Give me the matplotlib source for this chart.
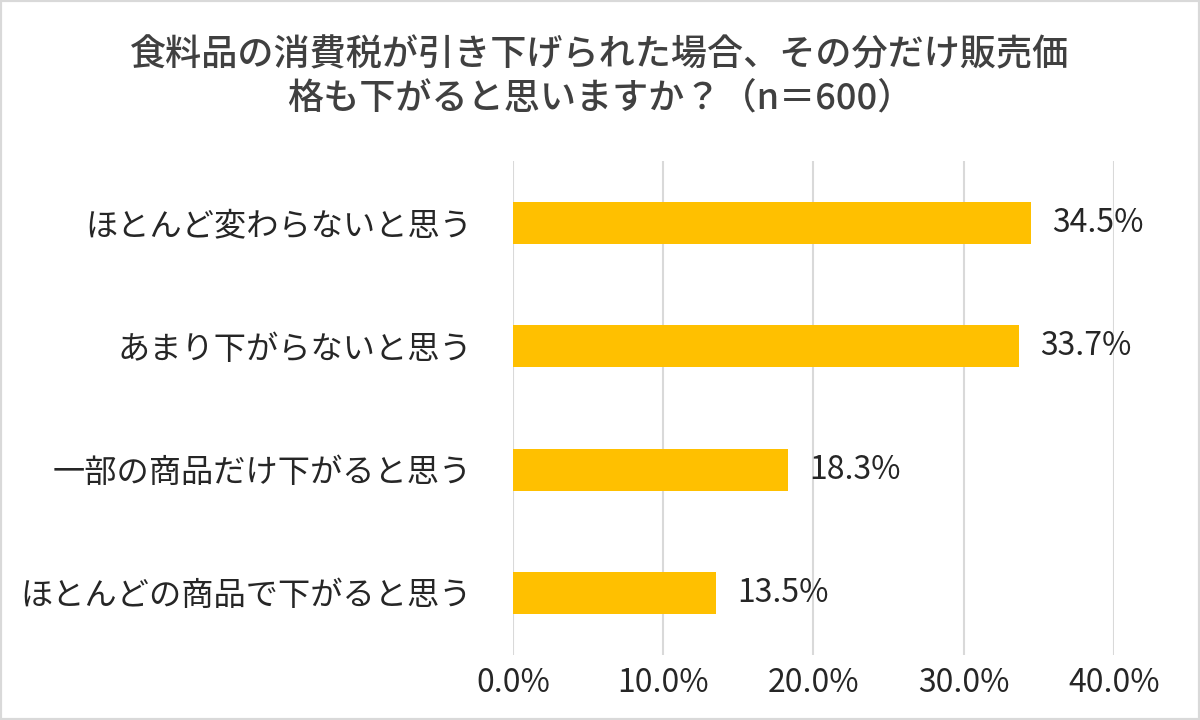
import matplotlib
matplotlib.use('Agg')
import matplotlib.pyplot as plt
from matplotlib.patches import Rectangle
from matplotlib.ticker import FuncFormatter

plt.rcParams['font.family'] = ['Noto Sans CJK JP', 'DejaVu Sans']

title = '食料品の消費税が引き下げられた場合、その分だけ販売価\n格も下がると思いますか？（n＝600）'
categories = ['ほとんど変わらないと思う', 'あまり下がらないと思う',
              '一部の商品だけ下がると思う', 'ほとんどの商品で下がると思う']
values = [34.5, 33.7, 18.3, 13.5]
xticks = [0, 10, 20, 30, 40]

fig = plt.figure(figsize=(12, 7.2), dpi=100)
ax = fig.add_axes([0.4275, 0.0903, 0.5008, 0.686])

pos = list(range(len(categories)))
ax.barh(pos, values, height=0.34, color='#FFC000', zorder=3)
for p, v in zip(pos, values):
    ax.text(v + 1.4, p, '{:.1f}%'.format(v), va='center', ha='left',
            fontsize=23, color='#262626')

ax.set_xlim(0, 40)
ax.set_ylim(3.503, -0.503)
ax.set_xticks(xticks)
ax.xaxis.set_major_formatter(FuncFormatter(lambda x, _: '{:.1f}%'.format(x)))
ax.set_yticks(pos)
ax.set_yticklabels(categories, fontsize=23.2, color='#262626')
ax.tick_params(axis='x', labelsize=23, colors='#262626', length=0, pad=9)
ax.tick_params(axis='y', length=0, pad=29.5)
ax.grid(axis='x', color='#D9D9D9', linewidth=1.5, zorder=0)
for s in ax.spines.values():
    s.set_visible(False)

fig.text(0.5, 0.892, title, ha='center', va='center', fontsize=26,
         color='#404040', fontweight='medium', linespacing=1.28)

fig.patches.append(Rectangle((0, 0), 1, 1, transform=fig.transFigure,
                             fill=False, edgecolor='#D9D9D9', linewidth=3))

fig.savefig('out.png', dpi=100)
